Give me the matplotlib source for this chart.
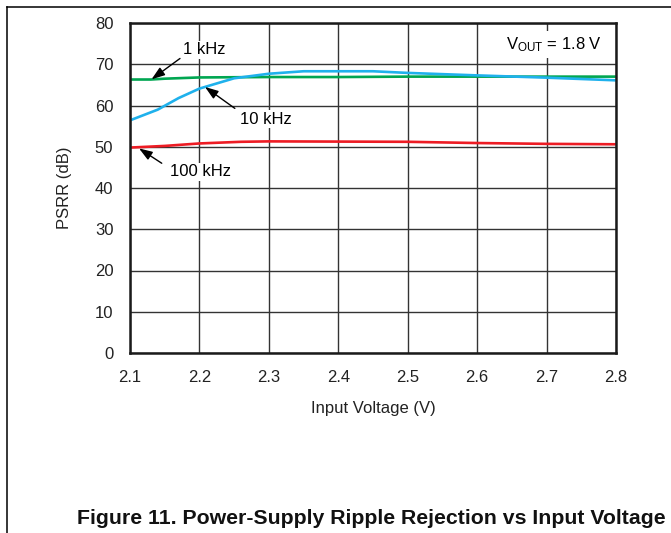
import matplotlib
matplotlib.use("Agg")
import matplotlib.pyplot as plt
from matplotlib.lines import Line2D

plt.rcParams["font.family"] = ["Liberation Sans", "DejaVu Sans"]
plt.rcParams["mathtext.fontset"] = "custom"
plt.rcParams["mathtext.rm"] = "Liberation Sans"
plt.rcParams["mathtext.it"] = "Liberation Sans:italic"

# PSRR vs input voltage
v_1k = [2.1, 2.13, 2.15, 2.2, 2.3, 2.4, 2.5, 2.6, 2.7, 2.8]
psrr_1k = [66.3, 66.3, 66.5, 66.8, 66.9, 66.9, 67.0, 67.0, 67.0, 67.0]

v_10k = [2.1, 2.14, 2.17, 2.2, 2.25, 2.3, 2.35, 2.45, 2.5, 2.6, 2.7, 2.8]
psrr_10k = [56.4, 59.0, 61.8, 64.1, 66.6, 67.7, 68.3, 68.3, 67.9, 67.3, 66.75, 66.1]

v_100k = [2.1, 2.15, 2.2, 2.26, 2.3, 2.5, 2.6, 2.7, 2.8]
psrr_100k = [49.8, 50.2, 50.8, 51.2, 51.3, 51.2, 50.9, 50.7, 50.6]

x_ticks = [2.1, 2.2, 2.3, 2.4, 2.5, 2.6, 2.7, 2.8]
y_ticks = [0, 10, 20, 30, 40, 50, 60, 70, 80]

W, H = 671, 533
fig = plt.figure(figsize=(W / 100, H / 100), dpi=100, facecolor="white")
ax = fig.add_axes([130 / W, 1 - 353 / H, 486 / W, 330 / H])

ax.plot(v_1k, psrr_1k, color="#00a651", linewidth=1.9, zorder=3)
ax.plot(v_10k, psrr_10k, color="#1fb1ec", linewidth=1.9, zorder=3)
ax.plot(v_100k, psrr_100k, color="#ed1c24", linewidth=1.9, zorder=3)

ax.set_xlim(2.1, 2.8)
ax.set_ylim(0, 80)
ax.set_xticks(x_ticks)
ax.set_xticklabels([f"{v:.1f}" for v in x_ticks])
ax.set_yticks(y_ticks)
ax.tick_params(length=0, labelsize=12, pad=12, colors="#222222")
ax.grid(True, color="#333333", linewidth=1.0)
ax.set_axisbelow(True)
for spine in ax.spines.values():
    spine.set_linewidth(1.8)
    spine.set_color("#1a1a1a")
    spine.set_zorder(5)

ax.set_xlabel("Input Voltage (V)", fontsize=12, color="#222222")
ax.set_ylabel("PSRR (dB)", fontsize=12, color="#222222")
ax.xaxis.set_label_coords(0.5, -0.145)
ax.yaxis.set_label_coords(-0.12, 0.5)

box = dict(facecolor="white", edgecolor="none", pad=1.0)
arrow = dict(arrowstyle="-|>,head_length=0.8,head_width=0.28", color="black",
             linewidth=1.0, shrinkA=0, shrinkB=0)

ax.text(2.2066, 73.5, "1 kHz", fontsize=12, ha="center", va="center", bbox=box, zorder=4)
ax.annotate("", xy=(2.131, 66.35), xytext=(2.172, 71.4), arrowprops=arrow, zorder=4)

ax.text(2.295, 56.65, "10 kHz", fontsize=12, ha="center", va="center", bbox=box, zorder=4)
ax.annotate("", xy=(2.208, 64.5), xytext=(2.251, 59.3), arrowprops=arrow, zorder=4)

ax.text(2.202, 43.95, "100 kHz", fontsize=12, ha="center", va="center", bbox=box, zorder=4)
ax.annotate("", xy=(2.113, 49.6), xytext=(2.1457, 46.0), arrowprops=arrow, zorder=4)

ax.text(2.78, 74.7, r"V$_{\mathrm{OUT}}$ = 1.8 V", fontsize=12, ha="right", va="center",
        bbox=dict(facecolor="white", edgecolor="none", pad=3.0), zorder=4)

# page frame lines
fig.add_artist(Line2D([7 / W, 1], [1 - 7 / H, 1 - 7 / H], transform=fig.transFigure,
                      color="black", linewidth=1.1))
fig.add_artist(Line2D([7 / W, 7 / W], [0, 1 - 7 / H], transform=fig.transFigure,
                      color="black", linewidth=1.1))

fig.text(371.5 / W, 1 - 518 / H, "Figure 11. Power-Supply Ripple Rejection vs Input Voltage",
         fontsize=15.3, fontweight="bold", ha="center", va="center", color="#111111")

fig.savefig("out.png", dpi=100)
